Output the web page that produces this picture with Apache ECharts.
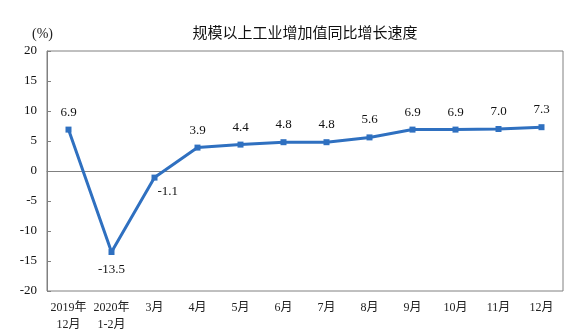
<!DOCTYPE html>
<html><head><meta charset="utf-8">
<script src="https://cdn.jsdelivr.net/npm/echarts@6/dist/echarts.min.js"></script>
<style>html,body{margin:0;padding:0;background:#fff}#c{width:576px;height:336px}</style>
</head><body><div id="c"></div>
<script>
var categories = ['2019年\n12月','2020年\n1-2月','3月','4月','5月','6月','7月','8月','9月','10月','11月','12月'];
var values = [6.9, -13.5, -1.1, 3.9, 4.4, 4.8, 4.8, 5.6, 6.9, 6.9, 7.0, 7.3];
var yTicks = [-20, -15, -10, -5, 0, 5, 10, 15, 20];
var chart = echarts.init(document.getElementById('c'));
var serif = '"Liberation Serif","Times New Roman","Noto Sans CJK SC",serif';
var data = values.map(function(v, i){
  var lab = {position: 'top'};
  if (i === 1) lab = {position: 'bottom', distance: 8};
  if (i === 2) lab = {position: 'right', offset: [-4, 14], distance: 4};
  return {value: v, label: lab};
});
chart.setOption({
  animation: false,
  title: {text: '规模以上工业增加值同比增长速度', left: 300, top: 20, textAlign: 'center',
    textStyle: {fontFamily: '"Noto Sans CJK SC",sans-serif', fontSize: 15, fontWeight: 'normal', color: '#111'}},
  grid: {left: 47, right: 13, top: 51, bottom: 45, show: true, borderColor: '#808080', borderWidth: 1},
  xAxis: {type: 'category', data: categories, boundaryGap: true,
    axisLine: {lineStyle: {color: '#808080'}},
    axisTick: {inside: true, length: 5, lineStyle: {color: '#808080'}},
    axisLabel: {color: '#222', fontFamily: serif, fontSize: 12, lineHeight: 17, margin: 8, interval: 0}},
  yAxis: {type: 'value', min: yTicks[0], max: yTicks[yTicks.length-1], interval: 5,
    name: '(%)', nameLocation: 'end', nameGap: 10, nameTextStyle: {color: '#222', fontFamily: serif, fontSize: 14, align: 'right', padding: [0, -6, 0, 0]},
    splitLine: {show: false},
    axisLine: {show: true, lineStyle: {color: '#808080'}},
    axisTick: {show: true, inside: true, length: 4, lineStyle: {color: '#808080'}},
    axisLabel: {color: '#111', fontFamily: serif, fontSize: 13, margin: 10}},
  series: [{type: 'line', data: data, symbol: 'rect', symbolSize: 6,
    lineStyle: {color: '#2f70c0', width: 3}, itemStyle: {color: '#2f70c0'},
    label: {show: true, color: '#111', fontFamily: serif, fontSize: 13, distance: 8,
      formatter: function(p){ return p.value.toFixed(1); }}}]
});
</script></body></html>
